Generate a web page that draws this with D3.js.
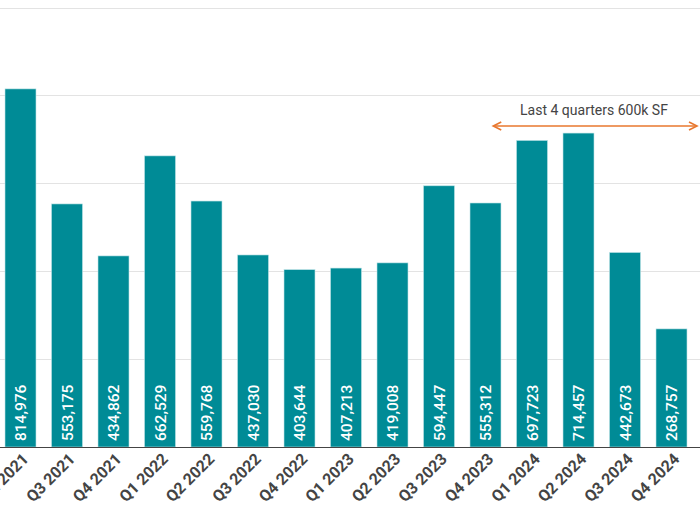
<!DOCTYPE html>
<html>
<head>
<meta charset="utf-8">
<script src="https://cdn.jsdelivr.net/npm/d3@7"></script>
<style>
  html, body { margin: 0; padding: 0; background: #fff; }
  svg { display: block; }
  text { font-family: Roboto, "Noto Sans", sans-serif; }
</style>
</head>
<body>
<svg id="chart" width="700" height="507"></svg>
<script>
const categories = ["Q2 2021","Q3 2021","Q4 2021","Q1 2022","Q2 2022","Q3 2022","Q4 2022","Q1 2023","Q2 2023","Q3 2023","Q4 2023","Q1 2024","Q2 2024","Q3 2024","Q4 2024"];
const values = [814976,553175,434862,662529,559768,437030,403644,407213,419008,594447,555312,697723,714457,442673,268757];
const yTicks = [0,200000,400000,600000,800000,1000000];
const annotationText = "Last 4 quarters 600k SF";

const svg = d3.select("#chart");
const W = 700, H = 507;

const x = d3.scaleBand()
  .domain(categories)
  .range([-2.75, 694.75])
  .paddingInner(1/3)
  .paddingOuter(1/6);

const y = d3.scaleLinear().domain([0, 1000000]).range([447, 7.6]);

// gridlines
svg.append("g")
  .selectAll("line")
  .data(yTicks.filter(d => d > 0))
  .join("line")
  .attr("x1", 0).attr("x2", W)
  .attr("y1", d => Math.round(y(d)) + 0.5)
  .attr("y2", d => Math.round(y(d)) + 0.5)
  .attr("stroke", "#e3e3e3")
  .attr("stroke-width", 1);

// bars
svg.append("g")
  .selectAll("rect")
  .data(values)
  .join("rect")
  .attr("x", (d, i) => x(categories[i]))
  .attr("y", d => y(d))
  .attr("width", x.bandwidth())
  .attr("height", d => y(0) - y(d))
  .attr("fill", "#008b96")
  .attr("stroke", "#bfe3e6")
  .attr("stroke-width", 0.6);

// value labels
svg.append("g")
  .selectAll("text")
  .data(values)
  .join("text")
  .attr("transform", (d, i) => `translate(${x(categories[i]) + x.bandwidth() / 2 + 5.5},${y(0) - 6}) rotate(-90)`)
  .attr("text-anchor", "start")
  .attr("fill", "#ffffff")
  .attr("font-size", "15.5px")
  .attr("font-weight", 500)
  .text(d => d3.format(",")(d));

// x axis
const xAxis = svg.append("g")
  .attr("transform", `translate(0,${y(0)})`)
  .call(d3.axisBottom(x).tickSize(0).tickPadding(0));
xAxis.select(".domain").remove();
xAxis.append("line")
  .attr("x1", 0).attr("x2", W)
  .attr("y1", 0.5).attr("y2", 0.5)
  .attr("stroke", "#444")
  .attr("stroke-width", 1.2);
xAxis.selectAll(".tick text")
  .attr("font-family", "Roboto, sans-serif")
  .attr("font-size", "16px")
  .attr("font-weight", 700)
  .attr("fill", "#444")
  .attr("text-anchor", "end")
  .attr("dy", null)
  .attr("y", null)
  .attr("transform", "translate(9,13) rotate(-45)");

// annotation arrow
const ax1 = x("Q4 2023") + x.bandwidth() * 0.75;
const ax2 = 697;
const ay = 126;
const orange = "#e8772e";
const ann = svg.append("g");
ann.append("line")
  .attr("x1", ax1 + 1).attr("x2", ax2 - 1)
  .attr("y1", ay).attr("y2", ay)
  .attr("stroke", orange).attr("stroke-width", 1.6);
ann.append("path")
  .attr("d", `M${ax1 + 8},${ay - 4} L${ax1},${ay} L${ax1 + 8},${ay + 4}`)
  .attr("fill", "none").attr("stroke", orange).attr("stroke-width", 1.6);
ann.append("path")
  .attr("d", `M${ax2 - 8},${ay - 4} L${ax2},${ay} L${ax2 - 8},${ay + 4}`)
  .attr("fill", "none").attr("stroke", orange).attr("stroke-width", 1.6);
ann.append("text")
  .attr("x", 594).attr("y", 115)
  .attr("text-anchor", "middle")
  .attr("font-size", "14px")
  .attr("fill", "#444")
  .text(annotationText);
</script>
</body>
</html>
